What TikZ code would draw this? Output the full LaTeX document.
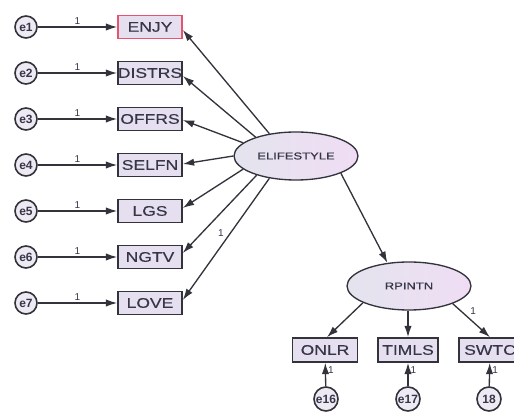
\documentclass[tikz,border=0pt]{standalone}
\usepackage{fontspec}
\setmainfont{Liberation Sans}
\newfontfamily\boxfont[FakeStretch=1.25,FakeBold=0.4]{Liberation Sans}
\newfontfamily\ellfont[FakeStretch=1.3,FakeBold=0.8]{Liberation Sans}
\usetikzlibrary{arrows.meta,shapes.geometric}
\definecolor{boxfill}{HTML}{E6DFF0}
\definecolor{linegray}{HTML}{33333C}
\definecolor{txtgray}{HTML}{363648}
\definecolor{redline}{HTML}{E5536E}
\definecolor{ellleft}{HTML}{E4E4EE}
\definecolor{ellright}{HTML}{F0DDF4}
\definecolor{errfill}{HTML}{EEEAF4}
\begin{document}
\begin{tikzpicture}[x=0.75pt,y=-0.75pt,
  obsbox/.style={draw=linegray, fill=boxfill, line width=1.2pt, minimum width=48pt,
    minimum height=17.25pt, inner sep=0pt, text=txtgray, font=\boxfont\fontsize{10.5}{12}\selectfont},
  errc/.style={circle, draw=linegray, fill=errfill, line width=1.2pt, minimum size=16.5pt,
    inner sep=0pt, text=txtgray, font=\bfseries\fontsize{9}{10}\selectfont},
  latent/.style={ellipse, draw=linegray, line width=1pt, left color=ellleft, right color=ellright,
    minimum width=93pt, minimum height=36pt, inner sep=0pt, text=txtgray,
    font=\ellfont\fontsize{7.5}{9}\selectfont},
  arr/.style={draw=linegray, line width=1pt, -{Latex[length=8.5pt,width=5.5pt]}},
  lab/.style={font=\fontsize{7.5}{8}\selectfont, text=txtgray, inner sep=1.5pt}]
\useasboundingbox (0,0) rectangle (514,416);
\clip (0,0) rectangle (514,416);
% observed boxes
\node[obsbox, draw=redline] (ENJY) at (150,27) {ENJY};
\node[obsbox] (DISTRS) at (150,73) {DISTRS};
\node[obsbox] (OFFRS) at (150,119) {OFFRS};
\node[obsbox] (SELFN) at (150,165) {SELFN};
\node[obsbox] (LGS) at (150,211) {LGS};
\node[obsbox] (NGTV) at (150,257) {NGTV};
\node[obsbox] (LOVE) at (150,303) {LOVE};
% error circles
\node[errc] (e1) at (26,27) {e1};
\node[errc] (e2) at (26,73) {e2};
\node[errc] (e3) at (26,119) {e3};
\node[errc] (e4) at (26,165) {e4};
\node[errc] (e5) at (26,211) {e5};
\node[errc] (e6) at (26,257) {e6};
\node[errc] (e7) at (26,303) {e7};
\foreach \e/\b in {e1/ENJY,e2/DISTRS,e3/OFFRS,e4/SELFN,e5/LGS,e6/NGTV,e7/LOVE}{
  \draw[arr] (\e) -- (\b) node[lab, midway, above] {1};
}
% latent variables
\node[latent] (E) at (296,156) {ELIFESTYLE};
\node[latent] (R) at (409,286) {RPINTN};
% loadings from ELIFESTYLE
\draw[arr] (E.140) -- ([yshift=-2.25pt]ENJY.east);
\draw[arr] (E.155) -- ([yshift=-2.25pt]DISTRS.east);
\draw[arr] (E.166) -- ([yshift=-0.75pt]OFFRS.east);
\draw[arr] (E.180) -- ([yshift=0.75pt]SELFN.east);
\draw[arr] (E.194) -- ([yshift=2.25pt]LGS.east);
\draw[arr] (E.206) -- ([yshift=3pt]NGTV.east);
\draw[arr] (E.220) -- ([yshift=2.25pt]LOVE.east) node[lab, pos=0.45, left=3pt] {1};
\draw[arr] (E.-21) -- (R.133);
% RPINTN indicators
\node[obsbox, minimum width=48.75pt, minimum height=18pt] (ONLR) at (325,350) {ONLR};
\node[obsbox, minimum width=45pt, minimum height=18pt] (TIMLS) at (408,350) {TIMLS};
\node[obsbox, minimum width=46.5pt, minimum height=18pt] (SWTC) at (490,350) {SWTC};
\draw[arr] (R.200) -- ([xshift=1.5pt]ONLR.north);
\draw[arr] (R.south -| TIMLS.north) -- (TIMLS.north);
\draw[arr] (R.-22) -- (SWTC.north) node[lab, pos=0.4, above right] {1};
% bottom error circles
\node[errc, minimum size=18pt] (e16) at (326,399) {e16};
\node[errc, minimum size=18pt] (e17) at (408,399) {e17};
\node[errc, minimum size=18pt] (e18) at (489,399) {18};
\draw[arr] (e16) -- (ONLR) node[lab, pos=0.7, right] {1};
\draw[arr] (e17) -- (TIMLS) node[lab, pos=0.7, right] {1};
\draw[arr] (e18) -- (SWTC) node[lab, pos=0.7, right] {1};
\end{tikzpicture}
\end{document}
